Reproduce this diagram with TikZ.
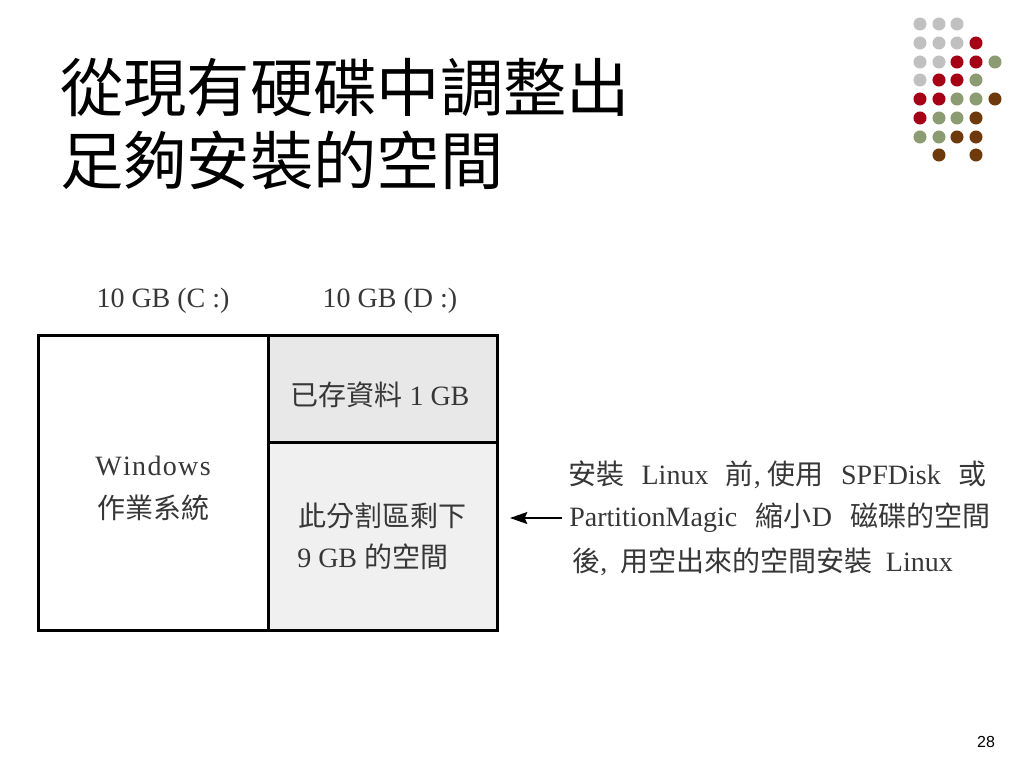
\documentclass[tikz,border=0pt]{standalone}
\usepackage{fontspec}
\usetikzlibrary{arrows.meta}
\setmainfont{Liberation Serif}
\newfontfamily\cjk{Noto Sans CJK TC}
\newfontfamily\pagefont{Liberation Sans}
\newcommand\zh[1]{{\cjk #1}}
\newcommand\gap{\hspace{13pt}}
\definecolor{dotgray}{RGB}{192,192,192}
\definecolor{dotred}{RGB}{165,0,22}
\definecolor{dotgreen}{RGB}{140,156,114}
\definecolor{dotbrown}{RGB}{110,58,11}
\definecolor{txtgray}{RGB}{55,55,55}
\tikzset{
    lbl/.style={inner sep=0pt, text=txtgray, font=\fontsize{21}{25}\selectfont},
    titletext/.style={inner sep=0pt, anchor=west, font=\cjk\fontsize{47.5}{50}\selectfont},
    part/.style={line width=2.25pt}
}
\begin{document}
\begin{tikzpicture}[x=0.75pt, y=-0.75pt, >={Stealth[length=13pt,width=9pt,inset=2pt]}]
    \useasboundingbox (0,0) rectangle (1024,768);

    % title
    \node[titletext] (title1) at (60,88) {從現有硬碟中調整出};
    \node[titletext] (title2) at (60,160) {足夠安裝的空間};

    % dots
    \fill[dotgray] (920,24) circle (4.9pt) (939,24) circle (4.9pt) (957,24) circle (4.9pt)
        (920,43) circle (4.9pt) (939,43) circle (4.9pt) (957,43) circle (4.9pt)
        (920,62) circle (4.9pt) (939,62) circle (4.9pt) (920,80) circle (4.9pt);
    \fill[dotred] (976,43) circle (4.9pt) (957,62) circle (4.9pt) (976,62) circle (4.9pt)
        (939,80) circle (4.9pt) (957,80) circle (4.9pt) (920,99) circle (4.9pt)
        (939,99) circle (4.9pt) (920,118) circle (4.9pt);
    \fill[dotgreen] (995,62) circle (4.9pt) (976,80) circle (4.9pt) (957,99) circle (4.9pt)
        (976,99) circle (4.9pt) (939,118) circle (4.9pt) (957,118) circle (4.9pt)
        (920,137) circle (4.9pt) (939,137) circle (4.9pt);
    \fill[dotbrown] (995,99) circle (4.9pt) (976,118) circle (4.9pt) (957,137) circle (4.9pt)
        (976,137) circle (4.9pt) (939,155) circle (4.9pt) (976,155) circle (4.9pt);

    % disk
    \filldraw[part, fill=black!9] (268,335) rectangle (497,442);
    \filldraw[part, fill=black!6] (268,442) rectangle (497,630);
    \draw[part] (38,335) rectangle (268,630);

    \node[lbl] (sizec) at (163,301) {10 GB (C :)};
    \node[lbl] (sized) at (390,301) {10 GB (D :)};
    \node[lbl] (used) at (380,395) {\zh{已存資料} 1 GB};
    \node[lbl] (win) at (153,466) {W\kern1pt i\kern1pt n\kern1pt d\kern1pt o\kern1pt w\kern1pt s};
    \node[lbl] (os) at (153,508) {\zh{作業系統}};
    \node[lbl, anchor=west] (free1) at (298,516) {\zh{此分割區剩下}};
    \node[lbl, anchor=west] (free2) at (297,557) {9 GB \zh{的空間}};

    % note
    \node[lbl, anchor=west] (note1) at (568,475) {\zh{安裝}\gap Linux\gap\zh{前}, \zh{使用}\gap SPFDisk\gap\zh{或}};
    \node[lbl, anchor=west] (note2) at (569,518) {PartitionMagic\hspace{14pt}\zh{縮小}D\hspace{14pt}\zh{磁碟的空間}};
    \node[lbl, anchor=west] (note3) at (572,562) {\zh{後},\hspace{10pt}\zh{用空出來的空間安裝}\hspace{10pt}Linux};
    \coordinate (tip) at (510,518);
    \draw[->, line width=1pt, shorten <=5pt] (note2.west) -- (tip);

    \node[inner sep=0pt, font=\pagefont\fontsize{12}{14}\selectfont] (pagenum) at (986,742) {28};
\end{tikzpicture}
\end{document}
